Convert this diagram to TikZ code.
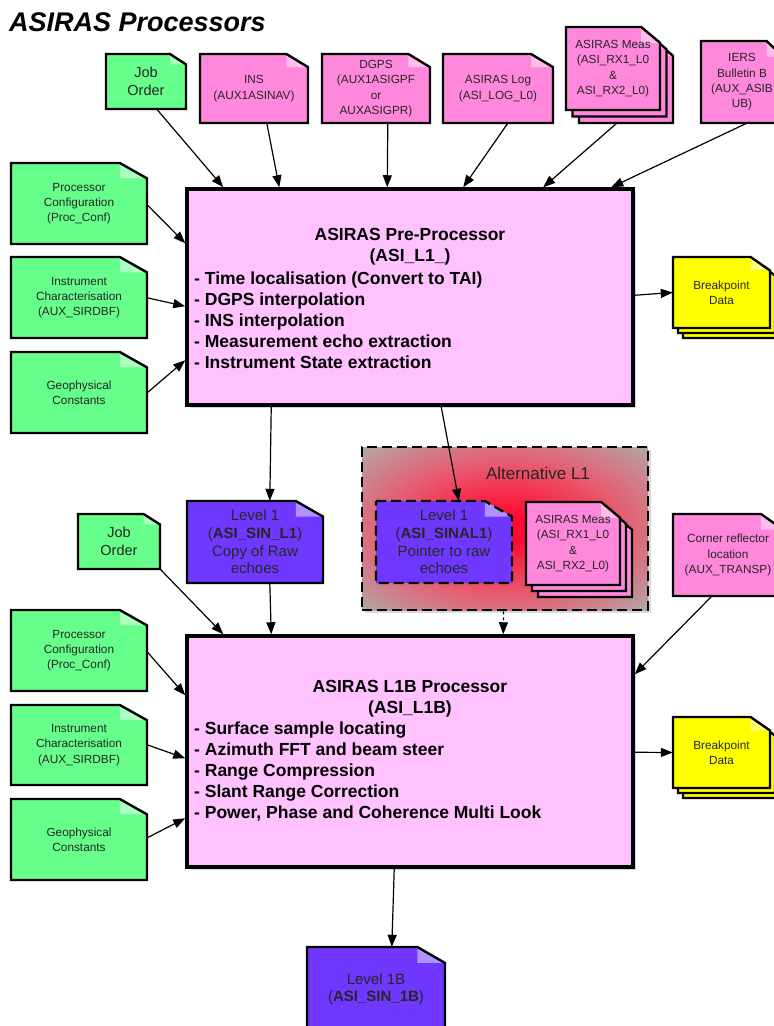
\documentclass[tikz,border=0pt]{standalone}
\usepackage{fontspec}
\setmainfont{Liberation Sans}
\usetikzlibrary{arrows.meta,calc,shadows}

\definecolor{auxgreen}{RGB}{102,255,140}
\definecolor{auxpink}{RGB}{255,136,221}
\definecolor{lvlpurple}{RGB}{112,56,255}
\definecolor{bpyellow}{RGB}{255,255,0}
\definecolor{procpink}{RGB}{255,194,255}
\definecolor{altgray}{RGB}{176,170,170}
\definecolor{altred}{RGB}{255,10,50}
\definecolor{altmid}{RGB}{232,90,110}
\pgfdeclareradialshading{altglow}{\pgfpoint{0bp}{0bp}}{color(0bp)=(altred); color(4bp)=(altred); color(20bp)=(altmid); color(36bp)=(altgray); color(50bp)=(altgray)}

% sheet with a folded corner: [extra] left, top, right, bottom, colour
\newcommand{\sheetbody}[6][]{%
  \fill[#6] ({#2},{#3}) -- ({#4-0.2*(#4-#2)},{#3}) -- ({#4},{#3+0.19*(#5-#3)}) -- ({#4},{#5}) -- ({#2},{#5}) -- cycle;
  \fill[#6!55!white] ({#4-0.2*(#4-#2)},{#3}) -- ({#4-0.2*(#4-#2)},{#3+0.19*(#5-#3)}) -- ({#4},{#3+0.19*(#5-#3)}) -- cycle;
  \draw[sheetline,#1] ({#2},{#3}) -- ({#4-0.2*(#4-#2)},{#3}) -- ({#4},{#3+0.19*(#5-#3)}) -- ({#4},{#5}) -- ({#2},{#5}) -- cycle;
}
% [extra] name, left, top, right, bottom, colour, text style, text
\newcommand{\filesheet}[9][]{%
  \sheetbody[#1]{#3}{#4}{#5}{#6}{#7}
  \node[sheettext,#8,minimum width={#5-#3},minimum height={#6-#4}] (#2) at ({(#3+#5)/2},{(#4+#6)/2}) {#9};
}
% name, left, top, right, bottom, colour, text style, text, offset
\newcommand{\filestack}[9]{%
  \begin{scope}[shift={(2*#9,2*#9)}]\sheetbody{#2}{#3}{#4}{#5}{#6}\end{scope}
  \begin{scope}[shift={(#9,#9)}]\sheetbody{#2}{#3}{#4}{#5}{#6}\end{scope}
  \filesheet{#1}{#2}{#3}{#4}{#5}{#6}{#7}{#8}
}

\begin{document}
\begin{tikzpicture}[x=1pt,y=-1pt]
\tikzstyle{every node}+=[inner sep=0pt]
\tikzstyle{sheetline}=[line width=2.4pt,line join=miter]
\tikzstyle{sheettext}=[align=center,text=black!85]
\tikzstyle{smalltxt}=[font=\fontsize{11.8}{15.3}\selectfont]
\tikzstyle{jobtxt}=[font=\fontsize{14.5}{18}\selectfont]
\tikzstyle{lvltxt}=[font=\fontsize{15}{17.7}\selectfont]
\tikzstyle{procbox}=[draw,line width=3.5pt,fill=procpink,drop shadow={shadow xshift=3pt,shadow yshift=-3pt,opacity=0.35}]
\tikzstyle{boxtitle}=[align=center,font=\bfseries\fontsize{17.5}{21}\selectfont]
\tikzstyle{boxlist}=[align=left,font=\bfseries\fontsize{17.5}{21}\selectfont]
\tikzstyle{flow}=[line width=1.2pt,-{Triangle[length=12pt,width=9pt]}]
\useasboundingbox (0,0) rectangle (774,1026);
\clip (0,0) rectangle (774,1026);

\node[anchor=west,font=\bfseries\itshape\fontsize{27}{30}\selectfont] (title) at (9,22) {ASIRAS Processors};

\filesheet{job1}{106}{54}{186}{109}{auxgreen}{jobtxt}{Job\\Order}
\filesheet{ins}{200}{54}{308}{123}{auxpink}{smalltxt}{INS\\(AUX1ASINAV)}
\filesheet{dgps}{322}{54}{430}{123}{auxpink}{smalltxt}{DGPS\\(AUX1ASIGPF\\or\\AUXASIGPR)}
\filesheet{aslog}{443}{54}{553}{123}{auxpink}{smalltxt}{ASIRAS Log\\(ASI\_LOG\_L0)}
\filestack{meas1}{566}{27}{660}{110}{auxpink}{smalltxt}{ASIRAS Meas\\(ASI\_RX1\_L0\\\&\\ASI\_RX2\_L0)}{6.5}
\filesheet{iers}{701}{41}{783}{123}{auxpink}{smalltxt}{IERS\\Bulletin B\\(AUX\_ASIB\\UB)}

\filesheet{conf1}{11}{163}{147}{244}{auxgreen}{smalltxt}{Processor\\Configuration\\(Proc\_Conf)}
\filesheet{char1}{11}{257}{147}{338}{auxgreen}{smalltxt}{Instrument\\Characterisation\\(AUX\_SIRDBF)}
\filesheet{geo1}{11}{352}{147}{433}{auxgreen}{smalltxt}{Geophysical\\Constants}

\node[procbox,minimum width=446,minimum height=216] (pre) at (410,297) {};
\node[boxtitle] (pretitle) at (410,246.5) {ASIRAS Pre-Processor\\(ASI\_L1\_)};
\node[boxlist,anchor=west] (prelist) at (194,320) {- Time localisation (Convert to TAI)\\- DGPS interpolation\\- INS interpolation\\- Measurement echo extraction\\- Instrument State extraction};

\filestack{bp1}{673}{257}{770}{328}{bpyellow}{smalltxt}{Breakpoint\\Data}{5}

\filesheet{lvl1}{187}{501}{323}{583}{lvlpurple}{lvltxt}{Level 1\\(\textbf{ASI\_SIN\_L1})\\Copy of Raw\\echoes}
\filesheet{job2}{78}{514}{160}{569}{auxgreen}{jobtxt}{Job\\Order}

\node[shade,shading=altglow,draw,line width=2.8pt,dash pattern=on 10pt off 5pt,minimum width=286,minimum height=163,drop shadow={shadow xshift=3pt,shadow yshift=-3pt,opacity=0.3}] (altgrp) at (505,528.5) {};
\node[font=\fontsize{17}{20}\selectfont,text=black!85] (altlabel) at (538,473) {Alternative L1};
\filesheet[dash pattern=on 10pt off 5pt]{alt1}{376}{501}{512}{583}{lvlpurple}{lvltxt}{Level 1\\(\textbf{ASI\_SINAL1})\\Pointer to raw\\echoes}
\filestack{meas2}{526}{502}{620}{585}{auxpink}{smalltxt}{ASIRAS Meas\\(ASI\_RX1\_L0\\\&\\ASI\_RX2\_L0)}{6}

\filesheet{corner}{673}{514}{783}{596}{auxpink}{smalltxt}{Corner reflector\\location\\(AUX\_TRANSP)}

\filesheet{conf2}{11}{610}{147}{691}{auxgreen}{smalltxt}{Processor\\Configuration\\(Proc\_Conf)}
\filesheet{char2}{11}{705}{147}{785}{auxgreen}{smalltxt}{Instrument\\Characterisation\\(AUX\_SIRDBF)}
\filesheet{geo2}{11}{799}{147}{880}{auxgreen}{smalltxt}{Geophysical\\Constants}

\node[procbox,minimum width=446,minimum height=231] (l1b) at (410,751.5) {};
\node[boxtitle] (l1btitle) at (410,698.5) {ASIRAS L1B Processor\\(ASI\_L1B)};
\node[boxlist,anchor=west] (l1blist) at (194,771.5) {- Surface sample locating\\- Azimuth FFT and beam steer\\- Range Compression\\- Slant Range Correction\\- Power, Phase and Coherence Multi Look};

\filestack{bp2}{673}{717}{770}{788}{bpyellow}{smalltxt}{Breakpoint\\Data}{5}
\filesheet{lvl1b}{307}{947}{445}{1031}{lvlpurple}{lvltxt}{Level 1B\\(\textbf{ASI\_SIN\_1B})}

\draw[flow] ($(job1.south west)+(51,0)$) -- ($(pre.north west)+(38,0)$);
\draw[flow] ($(ins.south west)+(67,0)$) -- ($(pre.north west)+(94,0)$);
\draw[flow] ($(dgps.south west)+(66,0)$) -- ($(pre.north west)+(202,0)$);
\draw[flow] ($(aslog.south west)+(65,0)$) -- ($(pre.north west)+(278,0)$);
\draw[flow] ($(meas1.south west)+(51,13)$) -- ($(pre.north west)+(358,0)$);
\draw[flow] ($(iers.south west)+(46,0)$) -- ($(pre.north west)+(426,0)$);
\draw[flow] ($(conf1.north east)+(0,42)$) -- ($(pre.north west)+(0,56)$);
\draw[flow] ($(char1.north east)+(0,41)$) -- ($(pre.north west)+(0,119)$);
\draw[flow] ($(geo1.north east)+(0,41)$) -- ($(pre.north west)+(0,173)$);
\draw[flow] ($(pre.north east)+(0,108)$) -- (bp1.west);
\draw[flow] ($(pre.south west)+(86,0)$) -- ($(lvl1.north west)+(83,0)$);
\draw[flow] ($(pre.south west)+(256,0)$) -- ($(alt1.north west)+(83,0)$);
\draw[flow] (job2.south east) -- ($(l1b.north west)+(38,0)$);
\draw[flow] ($(lvl1.south west)+(83,0)$) -- ($(l1b.north west)+(86,0)$);
\draw[flow,dashed] ($(altgrp.south west)+(143,0)$) -- ($(l1b.north west)+(318,0)$);
\draw[flow] ($(corner.south west)+(39,0)$) -- ($(l1b.north east)+(0,40)$);
\draw[flow] ($(conf2.north east)+(0,42)$) -- ($(l1b.north west)+(0,61)$);
\draw[flow] ($(char2.north east)+(0,40)$) -- ($(l1b.north west)+(0,124)$);
\draw[flow] ($(geo2.north east)+(0,39)$) -- ($(l1b.north west)+(0,184)$);
\draw[flow] ($(l1b.north east)+(0,118)$) -- (bp2.west);
\draw[flow] ($(l1b.south west)+(209,0)$) -- ($(lvl1b.north west)+(85,0)$);
\end{tikzpicture}
\end{document}
